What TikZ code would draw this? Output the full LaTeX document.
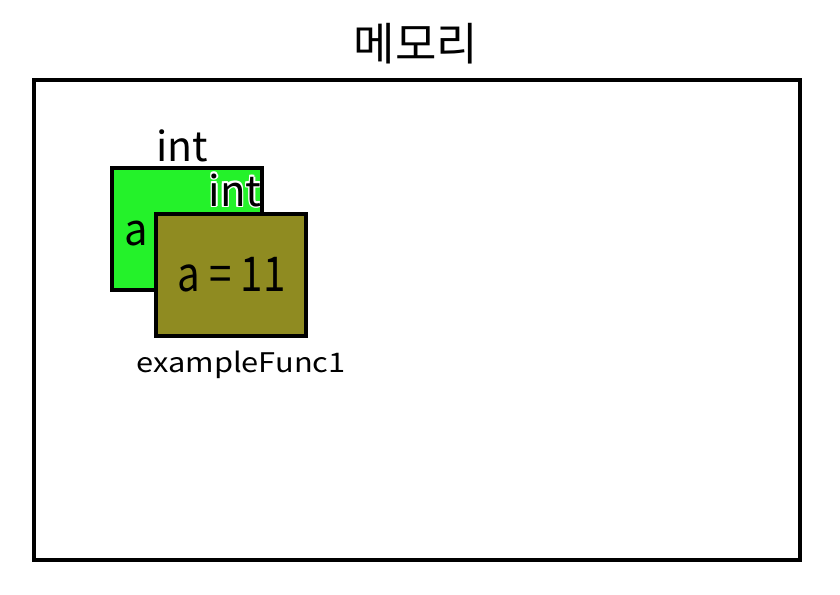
\documentclass[tikz,border=0pt]{standalone}
\usepackage{fontspec}
\usepackage{graphicx}
\setmainfont{Noto Sans CJK KR}
\definecolor{boxgreen}{RGB}{36,242,42}
\definecolor{boxolive}{RGB}{143,139,33}
\tikzset{
  memframe/.style={draw=black, line width=4pt, minimum width=766pt, minimum height=480pt, outer sep=0pt},
  membox/.style={minimum width=150pt, minimum height=122pt, outer sep=0pt, inner sep=0pt},
  lbl/.style={inner sep=0pt, anchor=base},
  halo/.style={lbl, text=white},
}
\newcommand{\fs}[1]{\fontsize{#1}{#1}\selectfont}
\begin{document}
\begin{tikzpicture}[x=1pt,y=-1pt]
\useasboundingbox (0,0) rectangle (840,594);
% title
\node[lbl] (title) at (416,60) {\fs{45}메모리};
% memory frame
\node[memframe] (mem) at (417,320) {};
% green box (int a)
\node[membox, fill=boxgreen] (gbox) at (187,229) {};
\begin{scope}
  \clip (gbox.north west) rectangle (gbox.south east);
  \foreach \dx/\dy [count=\i] in {-1.5/0,1.5/0,0/-1.5,0/1.5,-1.2/-1.2,1.2/-1.2,-1.2/1.2,1.2/1.2}{
    \node[halo] (inthalo\i) at (235+\dx,206+\dy) {\fs{42}int};
  }
  \node[lbl] (intin) at (235,206) {\fs{42}int};
\end{scope}
\node[lbl] (ga) at (136,245) {\fs{44}\scalebox{0.95}[1]{a}};
\draw[line width=4pt] (gbox.north west) rectangle (gbox.south east);
% olive box (exampleFunc1)
\node[membox, fill=boxolive, draw=black, line width=4pt] (obox) at (231,275) {};
\node[lbl] (oa) at (231.5,291) {\fs{48}\scalebox{0.84}[1]{a = 11}};
% labels
\node[lbl] (inttop) at (182.5,161) {\fs{41}int};
\node[lbl] (func) at (241,372) {\fs{27}\scalebox{1.14}[1]{exampleFunc1}};
\end{tikzpicture}
\end{document}
